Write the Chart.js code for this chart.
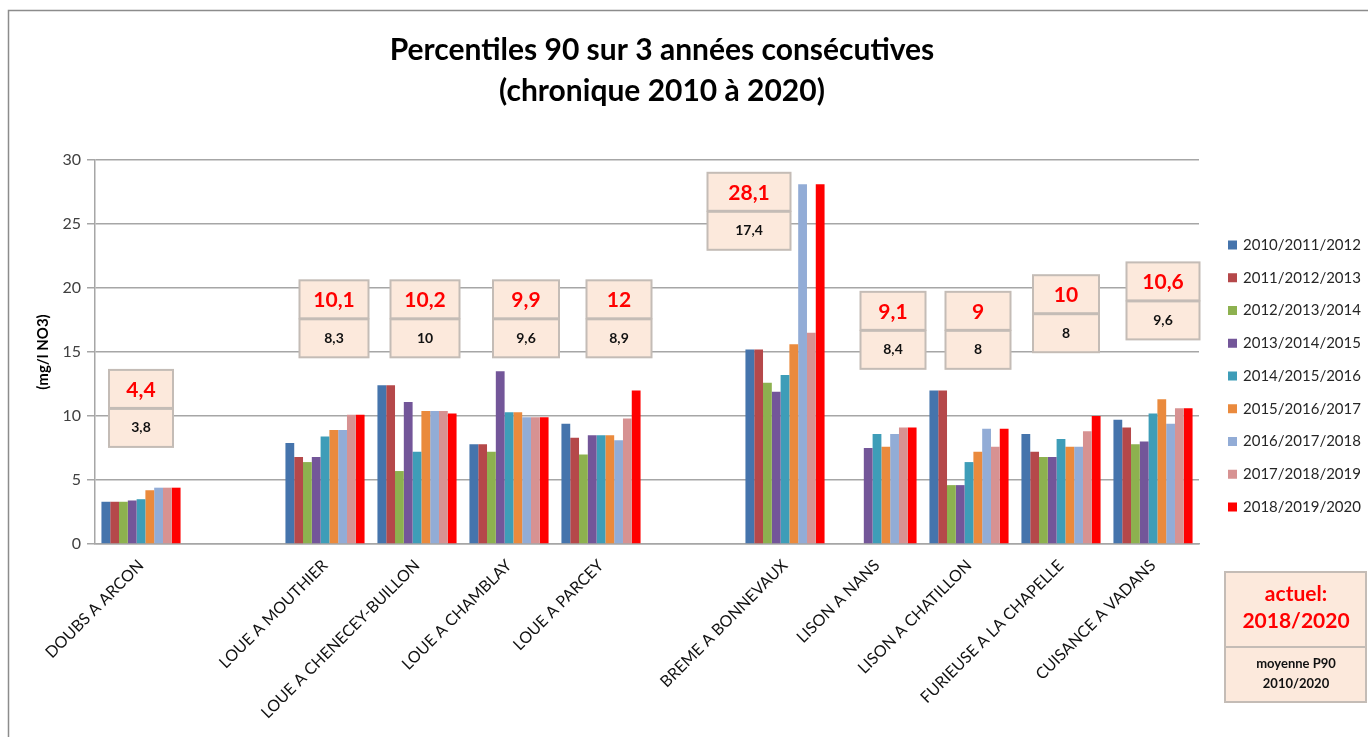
<!DOCTYPE html>
<html>
<head>
<meta charset="utf-8">
<script src="https://cdn.jsdelivr.net/npm/chart.js@4/dist/chart.umd.min.js"></script>
<style>
  html, body { margin: 0; padding: 0; background: #fff; }
  #wrap { position: relative; width: 1368px; height: 737px; }
</style>
</head>
<body>
<div id="wrap"><canvas id="chart"></canvas></div>
<script>
// stations (two empty slots separate the river groups)
const stations = ['DOUBS A ARCON', '', 'LOUE A MOUTHIER', 'LOUE A CHENECEY-BUILLON', 'LOUE A CHAMBLAY',
    'LOUE A PARCEY', '', 'BREME A BONNEVAUX', 'LISON A NANS', 'LISON A CHATILLON',
    'FURIEUSE A LA CHAPELLE', 'CUISANCE A VADANS'];

const periods = ['2010/2011/2012', '2011/2012/2013', '2012/2013/2014', '2013/2014/2015', '2014/2015/2016',
    '2015/2016/2017', '2016/2017/2018', '2017/2018/2019', '2018/2019/2020'];

// P90 values (mg/l NO3), one array per 3-year window
const p2010 = [3.3, null, 7.9, 12.4, 7.8, 9.4, null, 15.2, null, 12.0, 8.6, 9.7];
const p2011 = [3.3, null, 6.8, 12.4, 7.8, 8.3, null, 15.2, null, 12.0, 7.2, 9.1];
const p2012 = [3.3, null, 6.4, 5.7, 7.2, 7.0, null, 12.6, null, 4.6, 6.8, 7.8];
const p2013 = [3.4, null, 6.8, 11.1, 13.5, 8.5, null, 11.9, 7.5, 4.6, 6.8, 8.0];
const p2014 = [3.5, null, 8.4, 7.2, 10.3, 8.5, null, 13.2, 8.6, 6.4, 8.2, 10.2];
const p2015 = [4.2, null, 8.9, 10.4, 10.3, 8.5, null, 15.6, 7.6, 7.2, 7.6, 11.3];
const p2016 = [4.4, null, 8.9, 10.4, 9.9, 8.1, null, 28.1, 8.6, 9.0, 7.6, 9.4];
const p2017 = [4.4, null, 10.1, 10.4, 9.9, 9.8, null, 16.5, 9.1, 7.6, 8.8, 10.6];
const p2018 = [4.4, null, 10.1, 10.2, 9.9, 12.0, null, 28.1, 9.1, 9.0, 10.0, 10.6];

// values written in the boxes: current (2018/2020) and mean P90 2010/2020
const actuel = [4.4, null, 10.1, 10.2, 9.9, 12, null, 28.1, 9.1, 9, 10, 10.6];
const moyenne = [3.8, null, 8.3, 10, 9.6, 8.9, null, 17.4, 8.4, 8, 8, 9.6];

const yTicks = [0, 5, 10, 15, 20, 25, 30];

// where the boxes sit: top edge (axis units), x shift and width (px)
const boxTop = [13.6, null, 20.6, 20.6, 20.6, 20.6, null, 29.0, 19.7, 19.7, 21.0, 22.0];
const boxShift = [0, 0, 9, 8, 17, 18, 0, -36, 16, 9, 5, 10];
const boxWidth = [64, 0, 69, 69, 66, 65, 0, 83, 65, 65, 66, 73];

const colors = ['#4574ac', '#b5484a', '#8db14f', '#735699', '#3e9db8', '#ea8a3d', '#92acd6', '#d79292', '#ff0000'];
const series = [p2010, p2011, p2012, p2013, p2014, p2015, p2016, p2017, p2018];

const fmt = v => String(v).replace('.', ',');
const FONT = 'Lato, "Open Sans", sans-serif';

const boxesPlugin = {
    id: 'boxes',
    afterDatasetsDraw(chart) {
        const ctx = chart.ctx;
        const x = chart.scales.x, y = chart.scales.y;
        ctx.save();

        // title
        ctx.textAlign = 'center';
        ctx.textBaseline = 'alphabetic';
        ctx.fillStyle = '#000';
        ctx.font = 'bold 30px ' + FONT;
        ctx.fillText('Percentiles 90 sur 3 années consécutives', 662, 60);
        ctx.fillText('(chronique 2010 à 2020)', 662, 101);

        stations.forEach((s, i) => {
            if (actuel[i] === null) return;
            const w = boxWidth[i];
            const cx = x.getPixelForValue(i) + boxShift[i];
            const top = y.getPixelForValue(boxTop[i]);
            const h = 38;
            ctx.fillStyle = '#fce9dc';
            ctx.strokeStyle = '#c4bcb6';
            ctx.lineWidth = 2;
            ctx.fillRect(cx - w / 2, top, w, h);
            ctx.strokeRect(cx - w / 2, top, w, h);
            ctx.fillRect(cx - w / 2, top + h + 1, w, h);
            ctx.strokeRect(cx - w / 2, top + h + 1, w, h);
            ctx.textAlign = 'center';
            ctx.textBaseline = 'middle';
            ctx.fillStyle = '#ff0000';
            ctx.font = 'bold 21px ' + FONT;
            ctx.fillText(fmt(actuel[i]), cx, top + h / 2 + 1);
            ctx.fillStyle = '#111';
            ctx.font = 'bold 14px ' + FONT;
            ctx.fillText(fmt(moyenne[i]), cx, top + h * 1.5 + 1);
        });

        // legend
        ctx.textAlign = 'left';
        ctx.textBaseline = 'middle';
        ctx.font = '15px ' + FONT;
        chart.data.datasets.forEach((ds, i) => {
            const ly = 245 + i * 32.75;
            ctx.fillStyle = ds.backgroundColor;
            ctx.fillRect(1228, ly - 4.5, 9, 9);
            ctx.fillStyle = '#262626';
            ctx.fillText(ds.label, 1243, ly);
        });

        // key box
        ctx.fillStyle = '#fce9dc';
        ctx.strokeStyle = '#c4bcb6';
        ctx.lineWidth = 2;
        ctx.fillRect(1225, 572, 141, 75);
        ctx.strokeRect(1225, 572, 141, 75);
        ctx.fillRect(1225, 647, 141, 55);
        ctx.strokeRect(1225, 647, 141, 55);
        ctx.textAlign = 'center';
        ctx.fillStyle = '#ff0000';
        ctx.font = 'bold 21px ' + FONT;
        ctx.fillText('actuel:', 1296, 594);
        ctx.fillText('2018/2020', 1296, 621);
        ctx.fillStyle = '#111';
        ctx.font = 'bold 13px ' + FONT;
        ctx.fillText('moyenne P90', 1296, 664);
        ctx.fillText('2010/2020', 1296, 684);

        // outer frame
        ctx.strokeStyle = '#8c8c8c';
        ctx.lineWidth = 1.5;
        ctx.strokeRect(8.5, 10.5, 1400, 800);
        ctx.restore();
    }
};

const ctx = document.getElementById('chart').getContext('2d');
const chart = new Chart(ctx, {
    type: 'bar',
    data: {
        labels: stations,
        datasets: series.map((d, i) => ({
            label: periods[i],
            data: d,
            backgroundColor: colors[i],
            borderWidth: 0,
            categoryPercentage: 0.86,
            barPercentage: 1
        }))
    },
    options: {
        responsive: true,
        maintainAspectRatio: false,
        animation: false,
        layout: { padding: { left: 34, right: 169, top: 160, bottom: 0 } },
        plugins: {
            legend: { display: false },
            tooltip: { enabled: false }
        },
        scales: {
            x: {
                grid: { display: false },
                border: { color: '#a6a6a6', width: 1.5 },
                ticks: {
                    color: '#111',
                    font: { family: FONT, size: 16 },
                    maxRotation: 45,
                    minRotation: 45,
                    autoSkip: false,
                    padding: 4
                },
                afterFit: s => { s.height = 193; }
            },
            y: {
                min: 0,
                max: 30,
                afterBuildTicks: s => { s.ticks = yTicks.map(v => ({ value: v })); },
                grid: { color: '#a6a6a6', lineWidth: 1.5, tickLength: 8 },
                border: { color: '#a6a6a6', width: 1.5 },
                ticks: { color: '#404040', font: { family: FONT, size: 16 }, padding: 6 },
                title: {
                    display: true,
                    text: '(mg/l NO3)',
                    color: '#000',
                    font: { family: FONT, size: 15, weight: 'bold' },
                    padding: { top: 0, bottom: 4 }
                },
                afterFit: s => { s.width = 61; }
            }
        }
    },
    plugins: [boxesPlugin]
});
</script>
</body>
</html>
